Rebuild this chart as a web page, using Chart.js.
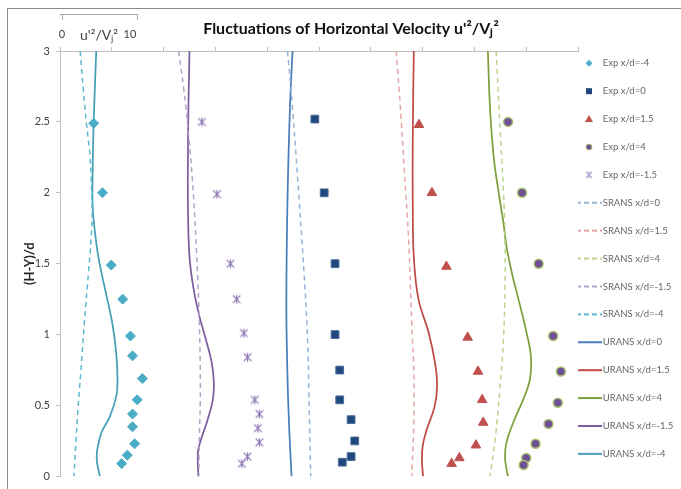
<!DOCTYPE html>
<html lang="en">
  <head>
    <meta charset="UTF-8">
    <title>Fluctuations of Horizontal Velocity</title>
    <script src="https://cdn.jsdelivr.net/npm/chart.js@4.4.7/dist/chart.umd.min.js"></script>
    <style>
    body { margin: 0; background: #fff; }
    </style>
  </head>
  <body>
    <canvas id="velChart" width="681" height="489"></canvas>
    <script>
    // experimental points (x = offset profile position, y = (H-Y)/d)
    const expM4X = [6.5, 8.2, 9.9, 12.1, 13.6, 14.0, 15.9, 14.9, 14.0, 14.0, 14.4, 13.0, 11.9];
    const expM4Y = [2.49, 2.0, 1.49, 1.25, 0.99, 0.85, 0.69, 0.54, 0.44, 0.35, 0.23, 0.15, 0.09];
    const exp0X = [49.2, 51.0, 53.1, 53.1, 54.0, 54.0, 56.2, 56.9, 56.2, 54.5];
    const exp0Y = [2.52, 2.0, 1.5, 1.0, 0.75, 0.54, 0.40, 0.25, 0.14, 0.10];
    const exp15X = [69.3, 71.8, 74.6, 78.7, 80.7, 81.5, 81.7, 80.3, 77.1, 75.6];
    const exp15Y = [2.48, 2.0, 1.48, 0.98, 0.74, 0.54, 0.38, 0.22, 0.13, 0.09];
    const exp4X = [86.5, 89.2, 92.4, 95.2, 96.7, 96.1, 94.3, 91.8, 90.0, 89.5];
    const exp4Y = [2.5, 2.0, 1.5, 0.99, 0.74, 0.52, 0.37, 0.23, 0.13, 0.08];
    const expM15X = [27.4, 30.3, 32.9, 34.1, 35.5, 36.2, 37.6, 38.5, 38.2, 38.5, 36.2, 35.1];
    const expM15Y = [2.50, 1.99, 1.50, 1.25, 1.01, 0.84, 0.54, 0.44, 0.34, 0.24, 0.14, 0.09];

    // SRANS profiles
    const srans0X = [43.9, 44.6, 45.8, 47.1, 47.8, 48.1, 48.4];
    const srans0Y = [3.0, 2.73, 2.14, 1.44, 0.96, 0.49, 0];
    const srans15X = [64.9, 65.7, 66.5, 67.3, 67.9, 68.3, 68.3, 67.9];
    const srans15Y = [3.0, 2.61, 2.14, 1.67, 1.08, 0.73, 0.38, 0];
    const srans4X = [84.2, 84.9, 85.6, 85.9, 85.9, 85.6, 84.9, 84.0, 83.0];
    const srans4Y = [3.0, 2.49, 2.02, 1.67, 1.32, 0.96, 0.61, 0.26, 0];
    const sransM15X = [22.9, 23.9, 24.8, 25.7, 26.4, 26.9, 27.1, 26.9, 26.8];
    const sransM15Y = [3.0, 2.73, 2.42, 2.02, 1.55, 1.08, 0.61, 0.26, 0];
    const sransM4X = [3.9, 4.5, 5.1, 5.8, 6.1, 6.2, 6.0, 5.5, 4.7, 4.0, 3.5, 3.1, 2.7];
    const sransM4Y = [3.0, 2.73, 2.49, 2.26, 2.02, 1.84, 1.67, 1.44, 1.08, 0.73, 0.49, 0.26, 0];

    // URANS profiles
    const urans0X = [44.9, 44.4, 43.9, 43.7, 43.9, 44.2, 44.7];
    const urans0Y = [3.0, 2.61, 1.91, 1.2, 0.73, 0.38, 0];
    const urans15X = [68.3, 68.1, 68.1, 68.3, 69.2, 71.2, 72.4, 72.8, 72.3, 70.8, 70.0, 69.9, 70.1];
    const urans15Y = [3.0, 2.38, 1.91, 1.55, 1.25, 1.01, 0.80, 0.64, 0.49, 0.33, 0.21, 0.09, 0];
    const urans4X = [82.6, 83.0, 83.7, 84.6, 85.6, 86.2, 87.2, 88.5, 89.9, 90.9, 90.7, 89.4, 87.5, 86.2, 85.9, 86.2, 86.5];
    const urans4Y = [3.0, 2.61, 2.26, 2.02, 1.79, 1.62, 1.44, 1.25, 1.04, 0.85, 0.68, 0.54, 0.38, 0.24, 0.14, 0.05, 0];
    const uransM15X = [25.0, 24.8, 24.7, 24.7, 25.0, 25.8, 26.9, 28.2, 29.3, 29.7, 29.5, 28.5, 27.4, 26.7, 26.6, 26.7];
    const uransM15Y = [3.0, 2.61, 2.26, 1.91, 1.55, 1.32, 1.13, 0.96, 0.80, 0.66, 0.54, 0.40, 0.28, 0.19, 0.12, 0];
    const uransM4X = [7.0, 6.5, 6.3, 6.3, 6.6, 7.4, 8.7, 10.1, 10.9, 11.1, 10.9, 9.6, 8.0, 7.2, 7.1, 7.4, 7.7];
    const uransM4Y = [3.0, 2.5, 2.14, 1.91, 1.77, 1.55, 1.32, 1.08, 0.85, 0.68, 0.57, 0.42, 0.31, 0.19, 0.12, 0.05, 0];

    const insetTicks = ['0', '10'];

    const pts = (xs, ys) => xs.map((x, i) => ({x: x, y: ys[i]}));

    function smallCanvas(w, h, draw) {
      const c = document.createElement('canvas');
      c.width = w;
      c.height = h;
      draw(c.getContext('2d'), w / 2, h / 2);
      return c;
    }

    // excel-like star: an x with a vertical bar through it
    function drawAsterisk(g, cx, cy, r, color) {
      g.strokeStyle = color;
      g.lineWidth = 1.2;
      g.beginPath();
      g.moveTo(cx - r, cy - r); g.lineTo(cx + r, cy + r);
      g.moveTo(cx + r, cy - r); g.lineTo(cx - r, cy + r);
      g.moveTo(cx, cy - r - 0.5); g.lineTo(cx, cy + r + 0.5);
      g.stroke();
    }

    const starMark = smallCanvas(11, 11, (g, cx, cy) => drawAsterisk(g, cx, cy, 3.8, '#8a72b2'));

    // legend keys
    const lineKey = (color, dash) => smallCanvas(26, 12, (g, cx, cy) => {
      g.strokeStyle = color;
      g.lineWidth = 2;
      g.setLineDash(dash ? [5, 3] : []);
      g.beginPath(); g.moveTo(0, cy); g.lineTo(26, cy); g.stroke();
    });
    const legendKeys = [
      smallCanvas(26, 12, (g, cx, cy) => {
        g.fillStyle = '#4bacc6';
        g.beginPath(); g.moveTo(cx, cy - 3.5); g.lineTo(cx + 3.5, cy); g.lineTo(cx, cy + 3.5); g.lineTo(cx - 3.5, cy); g.fill();
      }),
      smallCanvas(26, 12, (g, cx, cy) => { g.fillStyle = '#1f497d'; g.fillRect(cx - 3, cy - 3, 6, 6); }),
      smallCanvas(26, 12, (g, cx, cy) => {
        g.fillStyle = '#c0504d';
        g.beginPath(); g.moveTo(cx, cy - 4); g.lineTo(cx + 4, cy + 3); g.lineTo(cx - 4, cy + 3); g.fill();
      }),
      smallCanvas(26, 12, (g, cx, cy) => {
        g.fillStyle = '#6f4f96'; g.strokeStyle = '#a9c46c'; g.lineWidth = 1;
        g.beginPath(); g.arc(cx, cy, 3, 0, Math.PI * 2); g.fill(); g.stroke();
      }),
      smallCanvas(26, 12, (g, cx, cy) => drawAsterisk(g, cx, cy, 3, '#b3a6d0')),
      lineKey('#95b3d7', true),
      lineKey('#e6a5a3', true),
      lineKey('#b9d48c', true),
      lineKey('#b3a2c7', true),
      lineKey('#5cb8cf', true),
      lineKey('#4a7ebb', false),
      lineKey('#be4b48', false),
      lineKey('#7f9f3d', false),
      lineKey('#7c5f9f', false),
      lineKey('#46a0b8', false)
    ];

    const expSet = (label, xs, ys, style, radius, fill, border, bw) => ({
      label: label,
      data: pts(xs, ys),
      pointStyle: style,
      pointRadius: radius,
      backgroundColor: fill,
      borderColor: border,
      borderWidth: bw,
      pointBorderWidth: bw,
      showLine: false
    });

    const lineSet = (label, xs, ys, color, dashed) => ({
      label: label,
      data: pts(xs, ys),
      showLine: true,
      borderColor: color,
      borderWidth: dashed ? 1.5 : 1.75,
      borderDash: dashed ? [5, 4] : [],
      pointRadius: 0,
      tension: 0.4,
      fill: false
    });

    const frame = {
      id: 'frame',
      afterDraw(chart) {
        const c = chart.ctx;
        c.save();
        c.strokeStyle = '#8c8c8c';
        c.lineWidth = 1;
        c.strokeRect(7.5, 8.5, 700, 500);
        // little scale key in the top-left corner
        c.strokeStyle = '#a6a6a6';
        c.beginPath();
        c.moveTo(60, 14.5); c.lineTo(138, 14.5);
        c.moveTo(62.5, 14.5); c.lineTo(62.5, 20);
        c.moveTo(137.5, 14.5); c.lineTo(137.5, 20);
        c.stroke();
        c.fillStyle = '#404040';
        c.textAlign = 'center';
        c.textBaseline = 'middle';
        c.font = '11px Lato';
        c.fillText(insetTicks[0], 62, 34);
        c.fillText(insetTicks[1], 130, 34);
        c.font = '14px Lato';
        c.fillText("u'²/Vⱼ²", 99, 35);
        c.restore();
      }
    };

    const ctx = document.getElementById('velChart').getContext('2d');
    const velChart = new Chart(ctx, {
      type: 'scatter',
      data: {
        datasets: [
          expSet('Exp x/d=-4', expM4X, expM4Y, 'rectRot', 5, '#4bacc6', '#4bacc6', 1),
          expSet('Exp x/d=0', exp0X, exp0Y, 'rect', 5.5, '#1f497d', '#4a6d9a', 1),
          expSet('Exp x/d=1.5', exp15X, exp15Y, 'triangle', 5.5, '#c0504d', '#c0504d', 1),
          expSet('Exp x/d=4', exp4X, exp4Y, 'circle', 4.5, '#6f4f96', '#a9c46c', 1.5),
          expSet('Exp x/d=-1.5', expM15X, expM15Y, starMark, 5, '#8a72b2', '#8a72b2', 1),
          lineSet('SRANS x/d=0', srans0X, srans0Y, '#95b3d7', true),
          lineSet('SRANS x/d=1.5', srans15X, srans15Y, '#e6a5a3', true),
          lineSet('SRANS x/d=4', srans4X, srans4Y, '#b9d48c', true),
          lineSet('SRANS x/d=-1.5', sransM15X, sransM15Y, '#b3a2c7', true),
          lineSet('SRANS x/d=-4', sransM4X, sransM4Y, '#5cb8cf', true),
          lineSet('URANS x/d=0', urans0X, urans0Y, '#4a7ebb', false),
          lineSet('URANS x/d=1.5', urans15X, urans15Y, '#be4b48', false),
          lineSet('URANS x/d=4', urans4X, urans4Y, '#7f9f3d', false),
          lineSet('URANS x/d=-1.5', uransM15X, uransM15Y, '#7c5f9f', false),
          lineSet('URANS x/d=-4', uransM4X, uransM4Y, '#46a0b8', false)
        ]
      },
      options: {
        responsive: false,
        animation: false,
        events: [],
        layout: {
          padding: {left: 21, right: 0, top: 0, bottom: 12}
        },
        plugins: {
          tooltip: {enabled: false},
          title: {
            display: true,
            text: "Fluctuations of Horizontal Velocity u'²/Vⱼ²",
            color: '#111',
            font: {family: 'Lato', size: 16, weight: 'bold'},
            padding: {top: 19, bottom: 8.8}
          },
          legend: {
            position: 'right',
            align: 'start',
            maxWidth: 103,
            title: {
              display: true,
              text: ' ',
              font: {size: 10},
              padding: {top: 44.5, bottom: 0}
            },
            labels: {
              usePointStyle: true,
              pointStyleWidth: 18,
              padding: 2,
              color: '#2b2b2b',
              font: {family: 'Lato', size: 9.5, lineHeight: '25.9px'},
              generateLabels: (chart) => chart.data.datasets.map((ds, i) => ({
                text: [ds.label],
                pointStyle: legendKeys[i],
                datasetIndex: i,
                hidden: false,
                lineWidth: 0,
                fillStyle: 'transparent',
                strokeStyle: 'transparent'
              }))
            }
          }
        },
        scales: {
          x: {
            type: 'linear',
            position: 'top',
            min: 0,
            max: 100,
            ticks: {display: false, stepSize: 10},
            grid: {drawOnChartArea: false, tickLength: 4, color: '#bfbfbf'},
            border: {color: '#bfbfbf'}
          },
          y: {
            min: 0,
            max: 3,
            ticks: {
              stepSize: 0.5,
              padding: 6,
              color: '#404040',
              font: {family: 'Lato', size: 11},
              callback: (v) => String(v)
            },
            grid: {drawOnChartArea: false, tickLength: 4, color: '#bfbfbf'},
            border: {color: '#bfbfbf'},
            title: {
              display: true,
              text: '(H-Y)/d',
              color: '#262626',
              font: {family: 'Lato', size: 13, weight: 'bold'},
              padding: {top: 1, bottom: 0}
            },
            afterFit: (scale) => { scale.width = 39; }
          }
        }
      },
      plugins: [frame]
    });
    </script>
  </body>
</html>
